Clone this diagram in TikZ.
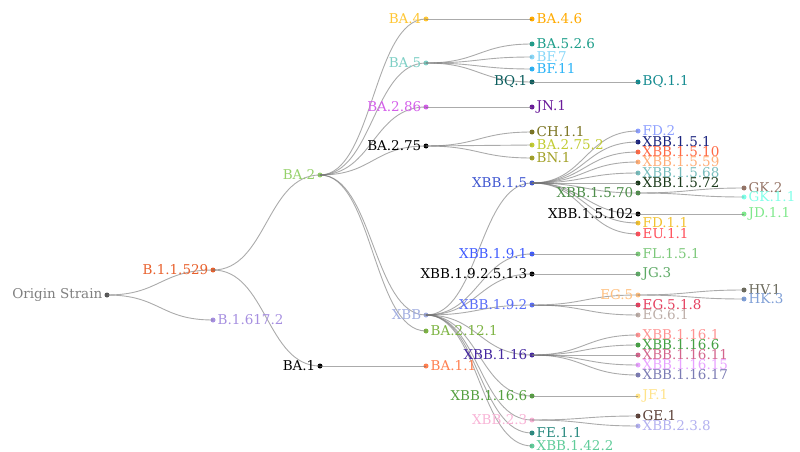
\documentclass[tikz,border=0pt]{standalone}
\usepackage{fontspec}
\setmainfont{DejaVu Serif}
\usetikzlibrary{calc}
\definecolor{cOrigin}{HTML}{7F7F7F}
\definecolor{cOriginDot}{HTML}{555555}
\definecolor{cBaa}{HTML}{E8602C}
\definecolor{cBdelta}{HTML}{A68FE0}
\definecolor{cBAtwo}{HTML}{95D16A}
\definecolor{cBlack}{HTML}{000000}
\definecolor{cBAoneone}{HTML}{FF7F50}
\definecolor{cBAfour}{HTML}{FFC633}
\definecolor{cBAfive}{HTML}{7ECFC5}
\definecolor{cBAtwoeightsix}{HTML}{D45FEA}
\definecolor{cXBB}{HTML}{A2AEE0}
\definecolor{cBAtwelve}{HTML}{7CB342}
\definecolor{cBAfoursix}{HTML}{FFAA00}
\definecolor{cBAfivetwosix}{HTML}{1E9E8A}
\definecolor{cBFseven}{HTML}{8AD8F8}
\definecolor{cBFeleven}{HTML}{2BB3F6}
\definecolor{cBQone}{HTML}{0B5D5D}
\definecolor{cBQoneone}{HTML}{138A8F}
\definecolor{cJNone}{HTML}{6A1B9A}
\definecolor{cCHoneone}{HTML}{7A7320}
\definecolor{cBAtwoseventyfivetwo}{HTML}{C2CC33}
\definecolor{cBNone}{HTML}{A3A128}
\definecolor{cXBBonefive}{HTML}{3F56D0}
\definecolor{cXBBonenineone}{HTML}{3F5BFF}
\definecolor{cXBBoneninetwo}{HTML}{5A6EF8}
\definecolor{cXBBonesixteen}{HTML}{4528A0}
\definecolor{cXBBonesixteensixA}{HTML}{55A040}
\definecolor{cXBBtwothree}{HTML}{F8B4D6}
\definecolor{cFEoneone}{HTML}{2A8A80}
\definecolor{cXBBonefortytwo}{HTML}{60CC9A}
\definecolor{cFDtwo}{HTML}{8EA0FF}
\definecolor{cXBBonefiveone}{HTML}{1A237E}
\definecolor{cXBBonefiveten}{HTML}{FF6A45}
\definecolor{cXBBonefivefiftynine}{HTML}{FFAE78}
\definecolor{cXBBonefivesixtyeight}{HTML}{78BDBD}
\definecolor{cXBBonefiveseventytwo}{HTML}{1B3A1B}
\definecolor{cXBBonefiveseventy}{HTML}{4E8E4A}
\definecolor{cFDoneone}{HTML}{F2C230}
\definecolor{cEUoneone}{HTML}{FF4F5A}
\definecolor{cGKtwo}{HTML}{957466}
\definecolor{cGKoneone}{HTML}{7FFFE8}
\definecolor{cJDoneone}{HTML}{7FE88C}
\definecolor{cFLonefiveone}{HTML}{7CC87A}
\definecolor{cJGthree}{HTML}{5EAA66}
\definecolor{cEGfive}{HTML}{FFC080}
\definecolor{cEGfiveoneeight}{HTML}{E5405F}
\definecolor{cEGsixone}{HTML}{BDAEA8}
\definecolor{cHVone}{HTML}{6B6A5C}
\definecolor{cHKthree}{HTML}{7F9FD6}
\definecolor{cXBBonesixteenone}{HTML}{FF9393}
\definecolor{cXBBonesixteensixB}{HTML}{45A043}
\definecolor{cXBBonesixteeneleven}{HTML}{D3658C}
\definecolor{cXBBonesixteenfifteen}{HTML}{E8A2FF}
\definecolor{cXBBonesixteenseventeen}{HTML}{7C7CB4}
\definecolor{cJFone}{HTML}{FFE38A}
\definecolor{cGEone}{HTML}{5B4037}
\definecolor{cXBBtwothreeeight}{HTML}{B3B1F0}
\tikzset{
  dot/.style={circle,inner sep=0pt,minimum size=5pt},
  labR/.style={anchor=west,inner sep=0pt,xshift=4.5pt,font=\fontsize{13.5}{16}\selectfont},
  labL/.style={anchor=east,inner sep=0pt,xshift=-4.5pt,font=\fontsize{13.5}{16}\selectfont},
  edge/.style={draw=black!55,draw opacity=0.6,line width=0.9pt}
}
\newcommand\mknode[6]{%
  \node[dot,fill=#4] (#1) at (#2,#3) {};
  \node[lab#6,text=#4] (#1-t) at (#1.center) {#5};}
\newcommand\mklink[2]{%
  \draw[edge] let \p1=(#1.center), \p2=(#2.center), \n1={(\x1+\x2)/2} in
    (\p1) .. controls (\n1,\y1) and (\n1,\y2) .. (\p2);}
\begin{document}
\begin{tikzpicture}[x=1pt,y=-1pt]
\useasboundingbox (0,0) rectangle (800,452);
% dots (coordinates only first, labels later)
\begin{scope}
\node[dot,fill=cOriginDot] (origin) at (107,295) {};
\node[dot,fill=cBaa] (b11529) at (213,270) {};
\node[dot,fill=cBdelta] (b16172) at (213,320) {};
\node[dot,fill=cBAtwo] (ba2) at (320,175) {};
\node[dot,fill=cBlack] (ba1) at (320,366) {};
\node[dot,fill=cBAoneone] (ba11) at (426,366) {};
\node[dot,fill=cBAfour] (ba4) at (426,19) {};
\node[dot,fill=cBAfive] (ba5) at (426,63) {};
\node[dot,fill=cBAtwoeightsix] (ba286) at (426,107) {};
\node[dot,fill=cBlack] (ba275) at (426,146) {};
\node[dot,fill=cXBB] (xbb) at (426,315) {};
\node[dot,fill=cBAtwelve] (ba2121) at (426,331) {};
\node[dot,fill=cBAfoursix] (ba46) at (532,19) {};
\node[dot,fill=cBAfivetwosix] (ba526) at (532,44) {};
\node[dot,fill=cBFseven] (bf7) at (532,57) {};
\node[dot,fill=cBFeleven] (bf11) at (532,69) {};
\node[dot,fill=cBQone] (bq1) at (532,82) {};
\node[dot,fill=cBQoneone] (bq11) at (638,82) {};
\node[dot,fill=cJNone] (jn1) at (532,107) {};
\node[dot,fill=cCHoneone] (ch11) at (532,132) {};
\node[dot,fill=cBAtwoseventyfivetwo] (ba2752) at (532,145) {};
\node[dot,fill=cBNone] (bn1) at (532,158) {};
\node[dot,fill=cXBBonefive] (xbb15) at (532,183) {};
\node[dot,fill=cXBBonenineone] (xbb191) at (532,254) {};
\node[dot,fill=cBlack] (xbb19251) at (532,274) {};
\node[dot,fill=cXBBoneninetwo] (xbb192) at (532,305) {};
\node[dot,fill=cXBBonesixteen] (xbb116) at (532,355) {};
\node[dot,fill=cXBBonesixteensixA] (xbb1166a) at (532,396) {};
\node[dot,fill=cXBBtwothree] (xbb23) at (532,420) {};
\node[dot,fill=cFEoneone] (fe11) at (532,433) {};
\node[dot,fill=cXBBonefortytwo] (xbb1422) at (532,446) {};
\node[dot,fill=cFDtwo] (fd2) at (638,131) {};
\node[dot,fill=cXBBonefiveone] (xbb151) at (638,142) {};
\node[dot,fill=cXBBonefiveten] (xbb1510) at (638,152) {};
\node[dot,fill=cXBBonefivefiftynine] (xbb1559) at (638,162) {};
\node[dot,fill=cXBBonefivesixtyeight] (xbb1568) at (638,173) {};
\node[dot,fill=cXBBonefiveseventytwo] (xbb1572) at (638,183) {};
\node[dot,fill=cXBBonefiveseventy] (xbb1570) at (638,193) {};
\node[dot,fill=cBlack] (xbb15102) at (638,214) {};
\node[dot,fill=cFDoneone] (fd11) at (638,223) {};
\node[dot,fill=cEUoneone] (eu11) at (638,234) {};
\node[dot,fill=cGKtwo] (gk2) at (744,188) {};
\node[dot,fill=cGKoneone] (gk11) at (744,197) {};
\node[dot,fill=cJDoneone] (jd11) at (744,214) {};
\node[dot,fill=cFLonefiveone] (fl151) at (638,254) {};
\node[dot,fill=cJGthree] (jg3) at (638,274) {};
\node[dot,fill=cEGfive] (eg5) at (638,295) {};
\node[dot,fill=cEGfiveoneeight] (eg518) at (638,305) {};
\node[dot,fill=cEGsixone] (eg61) at (638,315) {};
\node[dot,fill=cHVone] (hv1) at (744,290) {};
\node[dot,fill=cHKthree] (hk3) at (744,299) {};
\node[dot,fill=cXBBonesixteenone] (xbb1161) at (638,335) {};
\node[dot,fill=cXBBonesixteensixB] (xbb1166b) at (638,345) {};
\node[dot,fill=cXBBonesixteeneleven] (xbb11611) at (638,355) {};
\node[dot,fill=cXBBonesixteenfifteen] (xbb11615) at (638,365) {};
\node[dot,fill=cXBBonesixteenseventeen] (xbb11617) at (638,375) {};
\node[dot,fill=cJFone] (jf1) at (638,396) {};
\node[dot,fill=cGEone] (ge1) at (638,416) {};
\node[dot,fill=cXBBtwothreeeight] (xbb238) at (638,426) {};
\end{scope}
% edges
\begin{scope}[on background layer/.style={}]
\mklink{origin}{b11529}\mklink{origin}{b16172}
\mklink{b11529}{ba2}\mklink{b11529}{ba1}
\mklink{ba1}{ba11}
\mklink{ba2}{ba4}\mklink{ba2}{ba5}\mklink{ba2}{ba286}\mklink{ba2}{ba275}\mklink{ba2}{xbb}\mklink{ba2}{ba2121}
\mklink{ba4}{ba46}
\mklink{ba5}{ba526}\mklink{ba5}{bf7}\mklink{ba5}{bf11}\mklink{ba5}{bq1}
\mklink{bq1}{bq11}
\mklink{ba286}{jn1}
\mklink{ba275}{ch11}\mklink{ba275}{ba2752}\mklink{ba275}{bn1}
\mklink{xbb}{xbb15}\mklink{xbb}{xbb191}\mklink{xbb}{xbb19251}\mklink{xbb}{xbb192}\mklink{xbb}{xbb116}
\mklink{xbb}{xbb1166a}\mklink{xbb}{xbb23}\mklink{xbb}{fe11}\mklink{xbb}{xbb1422}
\mklink{xbb15}{fd2}\mklink{xbb15}{xbb151}\mklink{xbb15}{xbb1510}\mklink{xbb15}{xbb1559}\mklink{xbb15}{xbb1568}
\mklink{xbb15}{xbb1572}\mklink{xbb15}{xbb1570}\mklink{xbb15}{xbb15102}\mklink{xbb15}{fd11}\mklink{xbb15}{eu11}
\mklink{xbb1570}{gk2}\mklink{xbb1570}{gk11}
\mklink{xbb15102}{jd11}
\mklink{xbb191}{fl151}
\mklink{xbb19251}{jg3}
\mklink{xbb192}{eg5}\mklink{xbb192}{eg518}\mklink{xbb192}{eg61}
\mklink{eg5}{hv1}\mklink{eg5}{hk3}
\mklink{xbb116}{xbb1161}\mklink{xbb116}{xbb1166b}\mklink{xbb116}{xbb11611}\mklink{xbb116}{xbb11615}\mklink{xbb116}{xbb11617}
\mklink{xbb1166a}{jf1}
\mklink{xbb23}{ge1}\mklink{xbb23}{xbb238}
\end{scope}
% labels
\node[labL,text=cOrigin] (origin-t) at (origin.center) {Origin Strain};
\node[labL,text=cBaa] (b11529-t) at (b11529.center) {B.1.1.529};
\node[labR,text=cBdelta] (b16172-t) at (b16172.center) {B.1.617.2};
\node[labL,text=cBAtwo] (ba2-t) at (ba2.center) {BA.2};
\node[labL,text=cBlack] (ba1-t) at (ba1.center) {BA.1};
\node[labR,text=cBAoneone] (ba11-t) at (ba11.center) {BA.1.1};
\node[labL,text=cBAfour] (ba4-t) at (ba4.center) {BA.4};
\node[labL,text=cBAfive] (ba5-t) at (ba5.center) {BA.5};
\node[labL,text=cBAtwoeightsix] (ba286-t) at (ba286.center) {BA.2.86};
\node[labL,text=cBlack] (ba275-t) at (ba275.center) {BA.2.75};
\node[labL,text=cXBB] (xbb-t) at (xbb.center) {XBB};
\node[labR,text=cBAtwelve] (ba2121-t) at (ba2121.center) {BA.2.12.1};
\node[labR,text=cBAfoursix] (ba46-t) at (ba46.center) {BA.4.6};
\node[labR,text=cBAfivetwosix] (ba526-t) at (ba526.center) {BA.5.2.6};
\node[labR,text=cBFseven] (bf7-t) at (bf7.center) {BF.7};
\node[labR,text=cBFeleven] (bf11-t) at (bf11.center) {BF.11};
\node[labL,text=cBQone] (bq1-t) at (bq1.center) {BQ.1};
\node[labR,text=cBQoneone] (bq11-t) at (bq11.center) {BQ.1.1};
\node[labR,text=cJNone] (jn1-t) at (jn1.center) {JN.1};
\node[labR,text=cCHoneone] (ch11-t) at (ch11.center) {CH.1.1};
\node[labR,text=cBAtwoseventyfivetwo] (ba2752-t) at (ba2752.center) {BA.2.75.2};
\node[labR,text=cBNone] (bn1-t) at (bn1.center) {BN.1};
\node[labL,text=cXBBonefive] (xbb15-t) at (xbb15.center) {XBB.1.5};
\node[labL,text=cXBBonenineone] (xbb191-t) at (xbb191.center) {XBB.1.9.1};
\node[labL,text=cBlack] (xbb19251-t) at (xbb19251.center) {XBB.1.9.2.5.1.3};
\node[labL,text=cXBBoneninetwo] (xbb192-t) at (xbb192.center) {XBB.1.9.2};
\node[labL,text=cXBBonesixteen] (xbb116-t) at (xbb116.center) {XBB.1.16};
\node[labL,text=cXBBonesixteensixA] (xbb1166a-t) at (xbb1166a.center) {XBB.1.16.6};
\node[labL,text=cXBBtwothree] (xbb23-t) at (xbb23.center) {XBB.2.3};
\node[labR,text=cFEoneone] (fe11-t) at (fe11.center) {FE.1.1};
\node[labR,text=cXBBonefortytwo] (xbb1422-t) at (xbb1422.center) {XBB.1.42.2};
\node[labR,text=cFDtwo] (fd2-t) at (fd2.center) {FD.2};
\node[labR,text=cXBBonefiveone] (xbb151-t) at (xbb151.center) {XBB.1.5.1};
\node[labR,text=cXBBonefiveten] (xbb1510-t) at (xbb1510.center) {XBB.1.5.10};
\node[labR,text=cXBBonefivefiftynine] (xbb1559-t) at (xbb1559.center) {XBB.1.5.59};
\node[labR,text=cXBBonefivesixtyeight] (xbb1568-t) at (xbb1568.center) {XBB.1.5.68};
\node[labR,text=cXBBonefiveseventytwo] (xbb1572-t) at (xbb1572.center) {XBB.1.5.72};
\node[labL,text=cXBBonefiveseventy] (xbb1570-t) at (xbb1570.center) {XBB.1.5.70};
\node[labL,text=cBlack] (xbb15102-t) at (xbb15102.center) {XBB.1.5.102};
\node[labR,text=cFDoneone] (fd11-t) at (fd11.center) {FD.1.1};
\node[labR,text=cEUoneone] (eu11-t) at (eu11.center) {EU.1.1};
\node[labR,text=cGKtwo] (gk2-t) at (gk2.center) {GK.2};
\node[labR,text=cGKoneone] (gk11-t) at (gk11.center) {GK.1.1};
\node[labR,text=cJDoneone] (jd11-t) at (jd11.center) {JD.1.1};
\node[labR,text=cFLonefiveone] (fl151-t) at (fl151.center) {FL.1.5.1};
\node[labR,text=cJGthree] (jg3-t) at (jg3.center) {JG.3};
\node[labL,text=cEGfive] (eg5-t) at (eg5.center) {EG.5};
\node[labR,text=cEGfiveoneeight] (eg518-t) at (eg518.center) {EG.5.1.8};
\node[labR,text=cEGsixone] (eg61-t) at (eg61.center) {EG.6.1};
\node[labR,text=cHVone] (hv1-t) at (hv1.center) {HV.1};
\node[labR,text=cHKthree] (hk3-t) at (hk3.center) {HK.3};
\node[labR,text=cXBBonesixteenone] (xbb1161-t) at (xbb1161.center) {XBB.1.16.1};
\node[labR,text=cXBBonesixteensixB] (xbb1166b-t) at (xbb1166b.center) {XBB.1.16.6};
\node[labR,text=cXBBonesixteeneleven] (xbb11611-t) at (xbb11611.center) {XBB.1.16.11};
\node[labR,text=cXBBonesixteenfifteen] (xbb11615-t) at (xbb11615.center) {XBB.1.16.15};
\node[labR,text=cXBBonesixteenseventeen] (xbb11617-t) at (xbb11617.center) {XBB.1.16.17};
\node[labR,text=cJFone] (jf1-t) at (jf1.center) {JF.1};
\node[labR,text=cGEone] (ge1-t) at (ge1.center) {GE.1};
\node[labR,text=cXBBtwothreeeight] (xbb238-t) at (xbb238.center) {XBB.2.3.8};
\end{tikzpicture}
\end{document}
